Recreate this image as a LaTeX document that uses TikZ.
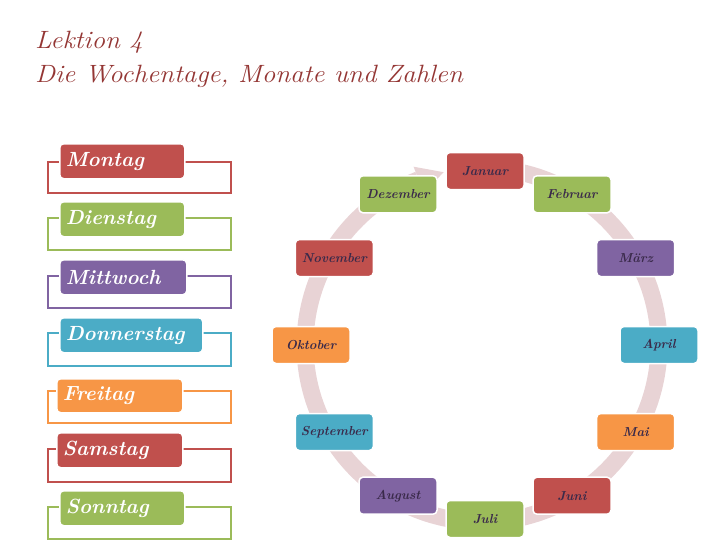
\documentclass[tikz,border=0pt]{standalone}
\usepackage{fontspec}
\definecolor{cred}{HTML}{C0504D}
\definecolor{cgreen}{HTML}{9BBB59}
\definecolor{cpurple}{HTML}{8064A2}
\definecolor{cblue}{HTML}{4BACC6}
\definecolor{corange}{HTML}{F79646}
\definecolor{ctitle}{HTML}{943634}
\definecolor{cmonth}{HTML}{3A2A4A}
\definecolor{cring}{HTML}{E8D3D5}
\tikzset{
  daybox/.style={rectangle, rounded corners=4pt, draw=white, line width=1.5pt, fill=#1,
    text=white, font=\fontsize{20.5}{24}\selectfont\bfseries\itshape,
    inner xsep=6pt, inner ysep=0pt, align=left, anchor=north west},
  bracketline/.style={draw=#1, line width=1.4pt},
  monthbox/.style={rectangle, rounded corners=4pt, draw=white, line width=1.5pt, fill=#1,
    text=cmonth, font=\fontsize{13}{15}\selectfont\bfseries\itshape,
    minimum width=78pt, minimum height=37pt, inner sep=0pt},
  titletext/.style={text=ctitle, font=\fontsize{25}{30}\selectfont\itshape, anchor=base west, inner sep=0pt}
}
\begin{document}
\begin{tikzpicture}[x=1pt,y=-1pt]
\useasboundingbox (0,0) rectangle (728,546);
% title
\node[titletext] (t1) at (35,48) {\scalebox{1.08}[1]{Lektion 4}};
\node[titletext] (t2) at (35,82) {\scalebox{1.08}[1]{Die Wochentage, Monate und Zahlen}};
% weekdays: brackets
\foreach \c/\ya/\yb in {cred/162/193, cgreen/218/250, cpurple/276/308, cblue/333/366, corange/391/423, cred/449/482, cgreen/507/539}
  \draw[bracketline=\c] (48,\ya) rectangle (231,\yb);
% weekday boxes
\node[daybox=cred, text width=113pt, minimum height=35pt] (mo) at (59,143) {Montag};
\node[daybox=cgreen, text width=113pt, minimum height=35pt] (di) at (59,201) {Dienstag};
\node[daybox=cpurple, text width=115pt, minimum height=35pt] (mi) at (59,259) {Mittwoch};
\node[daybox=cblue, text width=131pt, minimum height=35pt] (do) at (59,317) {Donnerstag};
\node[daybox=corange, text width=114pt, minimum height=34pt] (fr) at (56,378) {Freitag};
\node[daybox=cred, text width=114pt, minimum height=35pt] (sa) at (56,432) {Samstag};
\node[daybox=cgreen, text width=113pt, minimum height=35pt] (so) at (59,490) {Sonntag};
% ring
\draw[cring, line width=17pt] plot[domain=-84:249, samples=120, smooth] ({482+177*cos(\x)},{345+177*sin(\x)});
\fill[cring] ({482+191*cos(249)},{345+191*sin(249)}) -- ({482+177*cos(257.5)},{345+177*sin(257.5)}) -- ({482+163*cos(249)},{345+163*sin(249)}) -- cycle;
% months
\foreach \n/\a/\c/\t in {jan/-90/cred/Januar, feb/-60/cgreen/Februar, mar/-30/cpurple/März, apr/0/cblue/April, mai/30/corange/Mai, jun/60/cred/Juni, jul/90/cgreen/Juli, aug/120/cpurple/August, sep/150/cblue/September, okt/180/corange/Oktober, nov/210/cred/November, dez/240/cgreen/Dezember}
  \node[monthbox=\c] (\n) at ({485+174*cos(\a)},{345+174*sin(\a)}) {\t};
\end{tikzpicture}
\end{document}
